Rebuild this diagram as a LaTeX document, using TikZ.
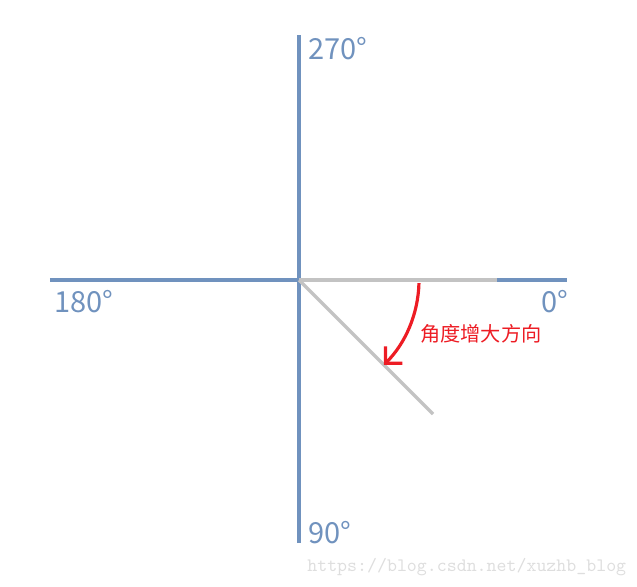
\documentclass[tikz,border=0pt]{standalone}
\usepackage{fontspec}
\setmainfont{Noto Sans CJK SC}
\usetikzlibrary{arrows.meta}
\definecolor{axisblue}{RGB}{112,146,190}
\definecolor{raygray}{RGB}{195,195,195}
\definecolor{arcred}{RGB}{237,28,36}
\definecolor{markgray}{RGB}{222,222,222}

\begin{document}
\begin{tikzpicture}[
    axis/.style={draw=axisblue, line width=2pt},
    ray/.style={draw=raygray, line width=2pt},
    turn/.style={draw=arcred, line width=1.8pt, -{Straight Barb[length=2.4mm, width=4.8mm]}},
    deg/.style={text=axisblue, font=\fontsize{16.5}{20}\selectfont, inner sep=0pt, anchor=base west},
    note/.style={text=arcred, font=\fontsize{11.5}{14}\selectfont, inner sep=0pt, anchor=west},
    source/.style={text=markgray, font=\fontsize{10.8}{12}\selectfont\ttfamily, inner sep=0pt, anchor=base west}
]
\useasboundingbox (-5.98,-6.12) rectangle (6.76,5.6);

% Points
\coordinate (O) at (0,0);
\coordinate (top) at (0,4.9);
\coordinate (bottom) at (0,-5.26);
\coordinate (left) at (-4.98,0);
\coordinate (right) at (5.36,0);
\coordinate (rayend) at (3.96,0);
\coordinate (diagend) at (2.68,-2.68);
\coordinate (arcstart) at (-1.5:2.4);

% Axes
\draw[axis] (bottom) -- (top);
\draw[axis] (left) -- (right);

% Rays
\draw[ray] (O) -- (rayend);
\draw[ray] (O) -- (diagend);

% Direction of growing angle
\draw[turn] (arcstart) arc[start angle=-1.5, end angle=-45, radius=2.4cm];

% Labels
\node[deg] (a270) at (0.18,4.4) {270°};
\node[deg] (a180) at (-4.9,-0.64) {180°};
\node[deg] (a0) at (4.84,-0.64) {0°};
\node[deg] (a90) at (0.18,-5.26) {90°};
\node[note] (dir) at (2.42,-1.08) {角度增大方向};
\node[source] (src) at (0.16,-5.82) {https://blog.csdn.net/xuzhb\_blog};

\end{tikzpicture}
\end{document}
